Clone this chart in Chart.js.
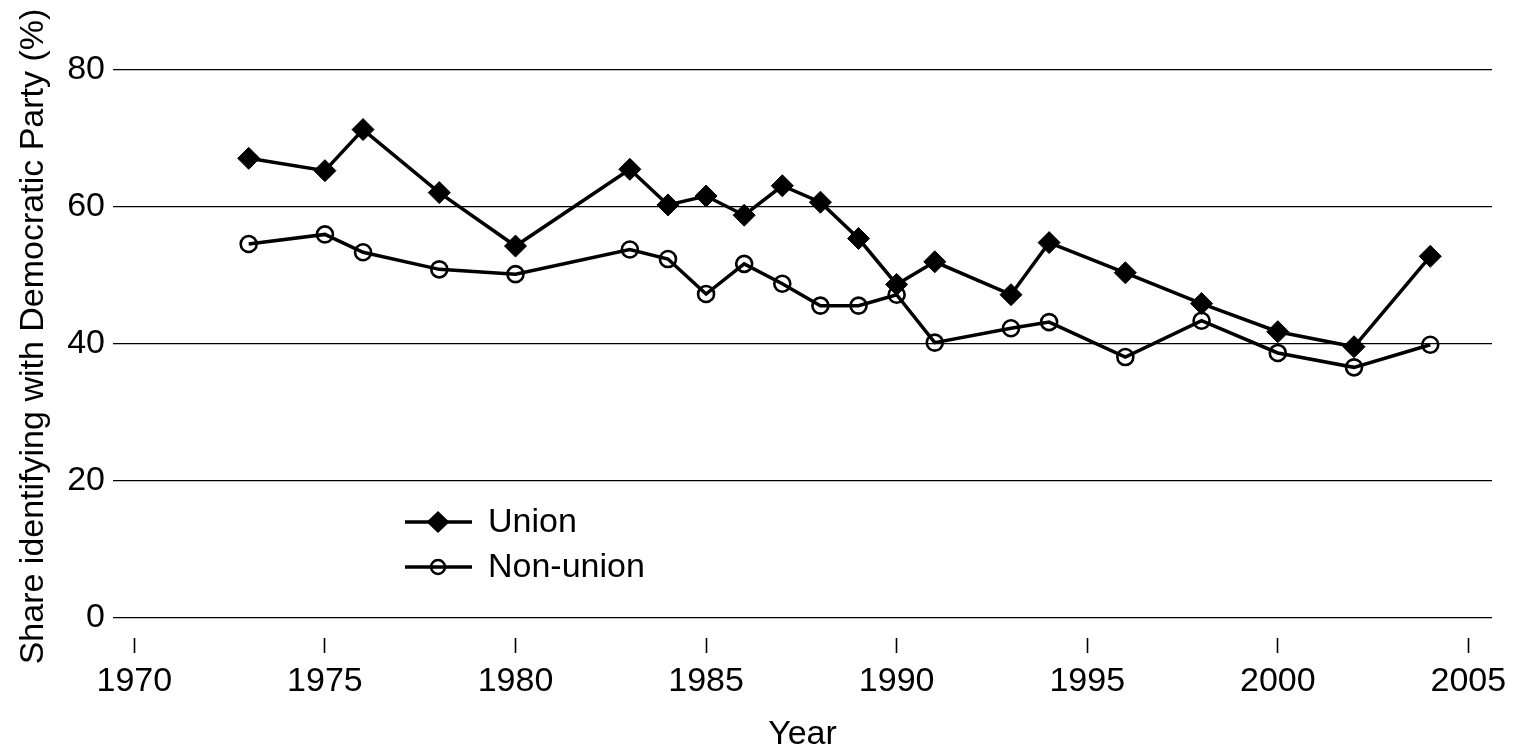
<!DOCTYPE html>
<html>
<head>
<meta charset="utf-8">
<script src="https://cdn.jsdelivr.net/npm/chart.js@4.4.1/dist/chart.umd.min.js"></script>
<style>
  html, body { margin: 0; padding: 0; background: #fff; }
  #wrap { width: 1516px; height: 749px; }
</style>
</head>
<body>
<div id="wrap"><canvas id="lineChart" width="1516" height="749"></canvas></div>
<script>
const years = [1973, 1975, 1976, 1978, 1980, 1983, 1984, 1985, 1986, 1987, 1988, 1989, 1990, 1991, 1993, 1994, 1996, 1998, 2000, 2002, 2004];
const unionShare = [67.0, 65.2, 71.2, 62.0, 54.2, 65.4, 60.2, 61.5, 58.7, 63.0, 60.6, 55.3, 48.6, 51.9, 47.1, 54.7, 50.3, 45.8, 41.7, 39.5, 52.7];
const nonUnionShare = [54.5, 55.9, 53.3, 50.8, 50.1, 53.7, 52.3, 47.2, 51.6, 48.7, 45.5, 45.5, 47.1, 40.1, 42.2, 43.1, 38.0, 43.3, 38.6, 36.5, 39.8];
const xTicks = [1970, 1975, 1980, 1985, 1990, 1995, 2000, 2005];
const yTicks = [0, 20, 40, 60, 80];

const FONT = "'Liberation Sans', Arial, Helvetica, sans-serif";
const FS = 34;

// legend drawn inside the plot, line + marker + label
const insideLegend = {
  id: "insideLegend",
  afterDatasetsDraw(chart) {
    const ctx = chart.ctx;
    const x0 = 405, x1 = 472, mx = 438, tx = 488;
    const rows = [522, 567];
    ctx.save();
    ctx.strokeStyle = "#000";
    ctx.fillStyle = "#000";
    ctx.font = `${FS}px ${FONT}`;
    ctx.textBaseline = "middle";
    ctx.textAlign = "left";
    chart.data.datasets.forEach((ds, i) => {
      const y = rows[i];
      ctx.lineWidth = 3.5;
      ctx.beginPath();
      ctx.moveTo(x0, y);
      ctx.lineTo(x1, y);
      ctx.stroke();
      if (ds.pointStyle === "rectRot") {
        ctx.beginPath();
        ctx.moveTo(mx - 11.5, y);
        ctx.lineTo(mx, y - 11);
        ctx.lineTo(mx + 11.5, y);
        ctx.lineTo(mx, y + 11);
        ctx.closePath();
        ctx.fill();
      } else {
        ctx.lineWidth = 2.5;
        ctx.beginPath();
        ctx.arc(mx, y, 7, 0, Math.PI * 2);
        ctx.stroke();
      }
      ctx.fillText(ds.label, tx, y + 1);
    });
    ctx.restore();
  }
};

const chart = new Chart(document.getElementById("lineChart"), {
  type: "line",
  data: {
    datasets: [
      {
        label: "Union",
        data: years.map((x, i) => ({ x, y: unionShare[i] })),
        borderColor: "#000",
        borderWidth: 3.5,
        pointStyle: "rectRot",
        pointRadius: 11,
        pointBackgroundColor: "#000",
        pointBorderColor: "#000",
        pointBorderWidth: 1,
        tension: 0,
        fill: false
      },
      {
        label: "Non-union",
        data: years.map((x, i) => ({ x, y: nonUnionShare[i] })),
        borderColor: "#000",
        borderWidth: 3.5,
        pointStyle: "circle",
        pointRadius: 8,
        pointBackgroundColor: "rgba(0,0,0,0)",
        pointBorderColor: "#000",
        pointBorderWidth: 2.6,
        tension: 0,
        fill: false
      }
    ]
  },
  options: {
    responsive: false,
    animation: false,
    events: [],
    layout: { padding: { top: 35, right: 24, left: 0, bottom: 0 } },
    plugins: {
      legend: { display: false },
      tooltip: { enabled: false }
    },
    scales: {
      x: {
        type: "linear",
        min: 1969.44,
        max: 2005.62,
        afterBuildTicks: axis => { axis.ticks = xTicks.map(v => ({ value: v })); },
        afterFit: axis => { axis.height = 111; },
        border: { display: false },
        grid: {
          drawOnChartArea: false,
          drawTicks: true,
          tickLength: 15,
          tickColor: "#000",
          tickWidth: 1.6
        },
        ticks: {
          autoSkip: false,
          maxRotation: 0,
          padding: 8,
          color: "#000",
          font: { size: FS, family: FONT },
          callback: v => String(v)
        },
        title: {
          display: true,
          text: "Year",
          color: "#000",
          padding: 0,
          font: { size: FS, family: FONT, lineHeight: 0.85 }
        }
      },
      y: {
        min: -3,
        max: 85,
        afterBuildTicks: axis => { axis.ticks = yTicks.map(v => ({ value: v })); },
        afterFit: axis => { axis.width = 113; },
        border: { display: false },
        grid: {
          drawTicks: false,
          color: "#000",
          lineWidth: 1.2
        },
        ticks: {
          padding: 8,
          color: "#000",
          font: { size: FS, family: FONT }
        },
        title: {
          display: true,
          text: "Share identifying with Democratic Party (%)",
          color: "#000",
          padding: { top: 13, bottom: 0 },
          font: { size: FS, family: FONT }
        }
      }
    }
  },
  plugins: [insideLegend]
});
</script>
</body>
</html>
